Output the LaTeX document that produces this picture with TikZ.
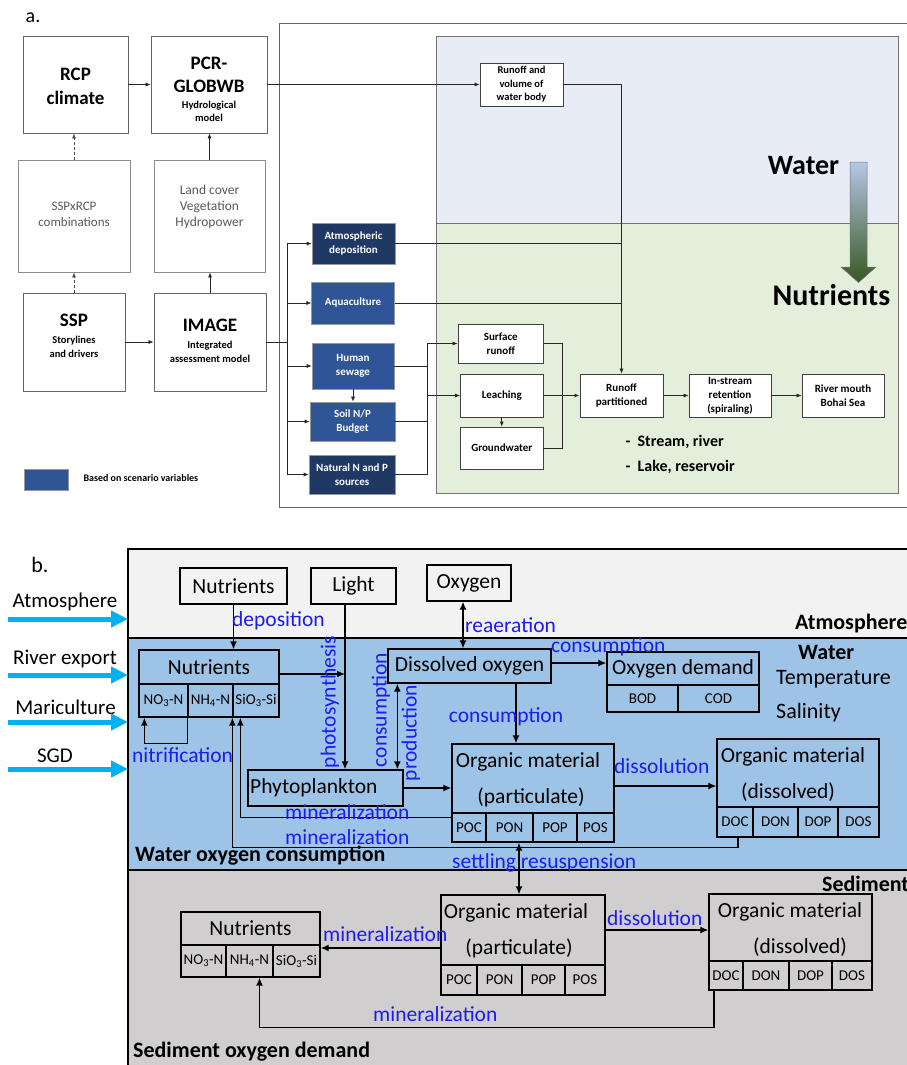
\documentclass[tikz,border=0pt]{standalone}
\usepackage{fontspec}
\setmainfont{Carlito}
\usetikzlibrary{arrows.meta}
\newcommand\fsz[2]{\fontsize{#1}{#2}\selectfont}
\definecolor{navy}{HTML}{1F3864}
\definecolor{midblue}{HTML}{2F5597}
\definecolor{wblue}{HTML}{E7ECF6}
\definecolor{lgreen}{HTML}{E3EFDA}
\definecolor{atmgray}{HTML}{F2F2F2}
\definecolor{watblue}{HTML}{9DC3E6}
\definecolor{sedgray}{HTML}{D0CECE}
\definecolor{lblue}{HTML}{1C1CF0}
\definecolor{cyanarr}{HTML}{00B0F0}
\definecolor{txtgray}{HTML}{595959}
\definecolor{gradtop}{HTML}{B4C7E7}
\definecolor{gradmid}{HTML}{7F9F8A}
\definecolor{gradbot}{HTML}{385723}
\begin{document}
\begin{tikzpicture}[x=1pt,y=-1pt,
  abox/.style={draw=black!60, line width=0.8pt, fill=white, inner sep=0pt, align=center},
  sbox/.style={abox, draw=black!75, font=\bfseries\fsz{10.5}{13.5}},
  bluebox/.style={draw=black!40, line width=0.6pt, fill=midblue, text=white, inner sep=0pt, align=center, font=\bfseries\fsz{11}{14}},
  navybox/.style={bluebox, fill=navy},
  aline/.style={draw=black!85, line width=0.7pt},
  aarrow/.style={aline, -{Latex[length=5pt,width=4pt]}},
  adash/.style={aarrow, draw=black!70, dash pattern=on 3pt off 2pt},
  bbox/.style={draw, line width=1.3pt, inner sep=0pt, font=\fsz{21.5}{26}},
  cellbox/.style={draw, line width=1.3pt, inner sep=0pt, font=\fsz{15}{18}},
  btxt/.style={inner sep=0pt, font=\fsz{21.5}{26}},
  blab/.style={inner sep=0pt, text=lblue, font=\fsz{21.5}{26}},
  boldlab/.style={inner sep=0pt, font=\bfseries\fsz{22}{26}},
  barrow/.style={draw, line width=1.4pt, -{Latex[length=8pt,width=7pt]}},
  bdarrow/.style={draw, line width=1.4pt, {Latex[length=8pt,width=7pt]}-{Latex[length=8pt,width=7pt]}},
  carrow/.style={draw=cyanarr, line width=5pt, -{Triangle[length=17pt,width=16pt]}}
  ]
\useasboundingbox (0,0) rectangle (907,1065);
\fill[white] (0,0) rectangle (907,1065);

% ================= PART a =================
\node[font=\fsz{20}{24}] (alab) at (33,18) {a.};

\node[abox, minimum width=105pt, minimum height=97pt] (rcp) at (75.5,84.5) {};
\node[font=\bfseries\fsz{19}{24}, align=center] at (75.5,86) {RCP\\climate};

\node[abox, minimum width=116pt, minimum height=97pt] (pcr) at (209,84.5) {};
\node[font=\bfseries\fsz{19}{23}, align=center] at (209,75) {PCR-\\GLOBWB};
\node[font=\bfseries\fsz{10.5}{13}, align=center] at (209,111) {Hydrological\\model};

\node[abox, draw=black!45, minimum width=112pt, minimum height=112pt] (combo) at (74,216) {};
\node[font=\fsz{13}{16}, text=txtgray, align=center] at (74,214) {SSPxRCP\\combinations};

\node[abox, draw=black!45, minimum width=111pt, minimum height=112pt] (land) at (209.5,216) {};
\node[font=\fsz{13.5}{16}, text=txtgray, align=center] at (209.5,207) {Land cover\\Vegetation\\Hydropower};

\node[abox, minimum width=102pt, minimum height=98pt] (ssp) at (74,342) {};
\node[font=\bfseries\fsz{19}{23}] at (74,320) {SSP};
\node[font=\bfseries\fsz{10.5}{14}, align=center] at (74,346.5) {Storylines\\and drivers};

\node[abox, minimum width=112pt, minimum height=98pt] (image) at (210,342) {};
\node[font=\bfseries\fsz{19}{23}] at (210,325) {IMAGE};
\node[font=\bfseries\fsz{10.5}{14}, align=center] at (210,351.5) {Integrated\\assessment model};

\node[fill=midblue, draw=black!40, line width=0.6pt, minimum width=44pt, minimum height=21pt] (leg) at (46,479.5) {};
\node[anchor=west, font=\bfseries\fsz{10}{12}] at (80,478) {Based on scenario variables};

% frame and regions
\draw[black!60, line width=0.8pt] (907,23) -- (279,23) -- (279,507) -- (907,507);
\filldraw[fill=wblue, draw=black!55, line width=0.7pt] (436.5,36) rectangle (898.5,223);
\filldraw[fill=lgreen, draw=black!55, line width=0.7pt] (436.5,223) rectangle (898.5,493);

\node[sbox, minimum width=83pt, minimum height=43pt] (runoff) at (521.5,84.5) {Runoff and\\volume of\\water body};

\node[navybox, minimum width=83pt, minimum height=41pt] (atm) at (353.5,243.5) {Atmospheric\\deposition};
\node[bluebox, minimum width=82.5pt, minimum height=42pt] (aqua) at (353,303) {Aquaculture};
\node[bluebox, minimum width=82pt, minimum height=46pt] (sew) at (353,366) {Human\\sewage};
\node[bluebox, minimum width=85pt, minimum height=39pt] (soil) at (352.5,421.5) {Soil N/P\\Budget};
\node[navybox, minimum width=86pt, minimum height=39pt] (nat) at (352,474.5) {Natural N and P\\sources};

\node[sbox, font=\bfseries\fsz{11}{14}, minimum width=85.5pt, minimum height=39pt] (srun) at (500.75,343.5) {Surface\\runoff};
\node[sbox, font=\bfseries\fsz{11}{14}, minimum width=82.5pt, minimum height=43pt] (leach) at (501.75,395.5) {Leaching};
\node[sbox, font=\bfseries\fsz{11}{14}, minimum width=82.5pt, minimum height=42pt] (gw) at (501.75,448) {Groundwater};
\node[sbox, font=\bfseries\fsz{11}{14}, minimum width=83pt, minimum height=43pt] (rpart) at (621.5,395.5) {Runoff\\partitioned};
\node[sbox, font=\bfseries\fsz{11}{14}, minimum width=82pt, minimum height=43pt] (instr) at (730,395.5) {In-stream\\retention\\(spiraling)};
\node[sbox, font=\bfseries\fsz{11}{14}, minimum width=82pt, minimum height=43pt] (river) at (843,395.5) {River mouth\\Bohai Sea};

\node[anchor=west, font=\bfseries\fsz{16}{19}] (lst1) at (622,442) {-\ \ Stream, river};
\node[anchor=west, font=\bfseries\fsz{16}{19}] (lst2) at (622,467) {-\ \ Lake, reservoir};

\shade[top color=gradtop, middle color=gradmid, bottom color=gradbot]
  (850,162) -- (867,162) -- (867,267) -- (876,267) -- (858.5,282.5) -- (841,267) -- (850,267) -- cycle;
\draw[black!55, line width=0.5pt]
  (850,162) -- (867,162) -- (867,267) -- (876,267) -- (858.5,282.5) -- (841,267) -- (850,267) -- cycle;
\node[font=\bfseries\fsz{28}{32}] (waterlab) at (803.5,166) {Water};
\node[font=\bfseries\fsz{30}{34}] (nutlab) at (831.5,295) {Nutrients};

% connectors a
\draw[aarrow] (rcp.east) -- (pcr.west);
\draw[adash] (combo.north) -- (combo.north |- rcp.south);
\draw[adash] (ssp.north) -- (ssp.north |- combo.south);
\draw[aarrow] (land.north) -- (land.north |- pcr.south);
\draw[aarrow] (image.north) -- (image.north |- land.south);
\draw[aarrow] (ssp.east) -- (image.west);
\coordinate (br) at (287,342);
\draw[aline, line width=1pt] (image.east) -- (br);
\foreach \n in {atm,aqua,sew,soil,nat} \draw[aarrow] (br) |- (\n.west);
\draw[aarrow] (pcr.east) -- (pcr.east -| runoff.west);
\draw[aarrow] (runoff.east) -| (rpart.north);
\draw[aline] (atm.east) -- (atm.east -| rpart.north);
\draw[aline] (aqua.east) -- (aqua.east -| rpart.north);
\draw[aarrow] (sew.south) -- (sew.south |- soil.north);
\coordinate (col) at (427,343.5);
\draw[aline] (nat.east) -| (col);
\draw[aline] (sew.east) -- (sew.east -| col);
\draw[aline] (soil.east) -- (soil.east -| col);
\draw[aarrow] (col) -- (srun.west);
\draw[aarrow] (col |- leach.west) -- (leach.west);
\draw[aline] (srun.east) -- ++(18.5,0) |- (gw.east);
\draw[aarrow] (leach.south) -- (gw.north);
\draw[aarrow, line width=1pt] (leach.east) -- (rpart.west);
\draw[aarrow] (rpart.east) -- (instr.west);
\draw[aarrow] (instr.east) -- (river.west);

% ================= PART b =================
\node[font=\fsz{22}{26}] (blab) at (40,565) {b.};

\fill[atmgray] (128,549) rectangle (907,638);
\fill[watblue] (128,638) rectangle (907,870);
\fill[sedgray] (128,870) rectangle (907,1065);
\draw[line width=1.4pt] (907,549) -- (128,549) -- (128,1065);
\draw[line width=1.3pt] (128,638) -- (907,638);
\draw[line width=1.3pt] (128,870) -- (907,870);

% left inputs
\node[btxt, font=\fsz{21}{25}] (lat) at (65,602) {Atmosphere};
\node[btxt, font=\fsz{21}{25}] (lre) at (65,659) {River export};
\node[btxt, font=\fsz{21}{25}] (lma) at (65.5,707) {Mariculture};
\node[btxt, font=\fsz{21}{25}] (lsg) at (55,756) {SGD};
\coordinate (c1s) at (8,619);  \coordinate (c1e) at (128,619);
\coordinate (c2s) at (8,675);  \coordinate (c2e) at (128,675);
\coordinate (c3s) at (8,722);  \coordinate (c3e) at (128,722);
\coordinate (c4s) at (8,769);  \coordinate (c4e) at (128,769);
\draw[carrow] (c1s) -- (c1e);
\draw[carrow] (c2s) -- (c2e);
\draw[carrow] (c3s) -- (c3e);
\draw[carrow] (c4s) -- (c4e);

% atmosphere boxes
\node[bbox, minimum width=107pt, minimum height=36pt] (tnut) at (233.5,586) {Nutrients};
\node[bbox, minimum width=85pt, minimum height=36pt] (light) at (353.5,586) {Light};
\node[bbox, minimum width=84pt, minimum height=36pt] (oxy) at (469,583) {Oxygen};

% water boxes
\node[bbox, minimum width=140pt, minimum height=34pt] (wnut) at (209,667) {Nutrients};
\node[cellbox, minimum width=49pt, minimum height=33pt] (wno3) at (163.5,700.5) {NO\textsubscript{3}-N};
\node[cellbox, minimum width=45pt, minimum height=33pt] (wnh4) at (210.5,700.5) {NH\textsubscript{4}-N};
\node[cellbox, minimum width=46pt, minimum height=33pt] (wsio) at (256,700.5) {SiO\textsubscript{3}-Si};

\node[bbox, minimum width=163pt, minimum height=34pt] (do) at (469.5,666) {Dissolved oxygen};

\node[bbox, minimum width=152pt, minimum height=33pt] (odem) at (683,668.5) {Oxygen demand};
\node[cellbox, minimum width=71pt, minimum height=27pt] (wbod) at (642.5,698.5) {BOD};
\node[cellbox, minimum width=81pt, minimum height=27pt] (wcod) at (718.5,698.5) {COD};

\node[bbox, minimum width=155pt, minimum height=36pt] (phyto) at (325.5,788) {};
\node[btxt, anchor=west] at (250,788) {Phytoplankton};

\node[bbox, minimum width=162pt, minimum height=69pt] (wopart) at (533,778.5) {};
\node[btxt] at (528,762) {Organic material};
\node[btxt] at (531,797) {(particulate)};
\node[cellbox, minimum width=34pt, minimum height=29pt] (wpoc) at (469,827.5) {POC};
\node[cellbox, minimum width=47pt, minimum height=29pt] (wpon) at (509.5,827.5) {PON};
\node[cellbox, minimum width=44pt, minimum height=29pt] (wpop) at (555,827.5) {POP};
\node[cellbox, minimum width=37pt, minimum height=29pt] (wpos) at (595.5,827.5) {POS};

\node[bbox, minimum width=162pt, minimum height=68pt] (wodis) at (798,773) {};
\node[btxt] at (793,757) {Organic material};
\node[btxt] at (788,792) {(dissolved)};
\node[cellbox, minimum width=36pt, minimum height=30pt] (wdoc) at (735,822) {DOC};
\node[cellbox, minimum width=45pt, minimum height=30pt] (wdon) at (775.5,822) {DON};
\node[cellbox, minimum width=40pt, minimum height=30pt] (wdop) at (818,822) {DOP};
\node[cellbox, minimum width=41pt, minimum height=30pt] (wdos) at (858.5,822) {DOS};

% sediment boxes
\node[bbox, minimum width=139pt, minimum height=33pt] (snut) at (250.5,928.5) {Nutrients};
\node[cellbox, minimum width=45pt, minimum height=32pt] (sno3) at (203.5,961) {NO\textsubscript{3}-N};
\node[cellbox, minimum width=47pt, minimum height=32pt] (snh4) at (249.5,961) {NH\textsubscript{4}-N};
\node[cellbox, minimum width=47pt, minimum height=32pt] (ssio) at (296.5,961) {SiO\textsubscript{3}-Si};

\node[bbox, minimum width=164pt, minimum height=70pt] (sopart) at (523,930) {};
\node[btxt] at (516,913) {Organic material};
\node[btxt] at (519,948) {(particulate)};
\node[cellbox, minimum width=36pt, minimum height=30pt] (spoc) at (459,980) {POC};
\node[cellbox, minimum width=45pt, minimum height=30pt] (spon) at (499.5,980) {PON};
\node[cellbox, minimum width=43pt, minimum height=30pt] (spop) at (543.5,980) {POP};
\node[cellbox, minimum width=40pt, minimum height=30pt] (spos) at (585,980) {POS};

\node[bbox, minimum width=163pt, minimum height=67pt] (sodis) at (790.5,927.5) {};
\node[btxt] at (790,912) {Organic material};
\node[btxt] at (800,947) {(dissolved)};
\node[cellbox, minimum width=34pt, minimum height=29pt] (sdoc) at (726,975.5) {DOC};
\node[cellbox, minimum width=46pt, minimum height=29pt] (sdon) at (766,975.5) {DON};
\node[cellbox, minimum width=43pt, minimum height=29pt] (sdop) at (810.5,975.5) {DOP};
\node[cellbox, minimum width=40pt, minimum height=29pt] (sdos) at (852,975.5) {DOS};

% connectors b
\coordinate (pj) at (345,674);
\draw[barrow] (tnut.south) -- (tnut.south |- wnut.north);
\draw[barrow] ([yshift=-7pt]wnut.east) -- (pj);
\draw[barrow] ([xshift=-8.5pt]light.south) -- ([xshift=-8.5pt]light.south |- phyto.north);
\draw[bdarrow] ([xshift=-6pt]oxy.south) -- ([xshift=-6pt]oxy.south |- do.north);
\draw[bdarrow] ([xshift=10pt]do.south west) -- ([xshift=10pt]do.south west |- phyto.north);
\draw[barrow] ([yshift=3pt]do.east) -- ([yshift=3pt]do.east -| odem.west);
\draw[barrow] ([xshift=46.5pt]do.south) -- ([xshift=46.5pt]do.south |- wopart.north);
\draw[barrow] (phyto.east) -- (phyto.east -| wopart.west);
\draw[barrow] ([yshift=-7.5pt]wopart.east) -- ([yshift=-7.5pt]wopart.east -| wodis.west);
\draw[barrow] (wnh4.south west) -- ++(0,26) -| ([xshift=6pt]wno3.south west);
\draw[barrow] ([yshift=-5pt]wpoc.north west) -| ([xshift=8pt]wsio.south west);
\draw[barrow] ([xshift=3pt]wdoc.south) -- ++(0,10) -| (wsio.south west);
\draw[bdarrow] ([xshift=9.5pt]wpon.south) -- ([xshift=9.5pt]wpon.south |- sopart.north);
\draw[barrow] ([yshift=-18pt]sopart.west) -- ([yshift=-18pt]sopart.west -| ssio.east);
\draw[barrow] (sopart.east) -- (sopart.east -| sodis.west);
\draw[barrow] ([xshift=-12pt]sdoc.south) -- ++(0,37) -| ([xshift=10pt]snh4.south);

% blue process labels
\node[blab, anchor=west] at (232,621) {deposition};
\node[blab, anchor=west] at (465,625) {reaeration};
\node[blab, anchor=west] at (551,647) {consumption};
\node[blab] at (506,717) {consumption};
\node[blab, rotate=90] at (330,702) {photosynthesis};
\node[blab, rotate=90] at (381,710) {consumption};
\node[blab, rotate=90] at (411,733) {production};
\node[blab, anchor=west] at (132,755) {nitrification};
\node[blab, anchor=west] at (285,812) {mineralization};
\node[blab, anchor=west] at (285,837) {mineralization};
\node[blab, anchor=west] at (614,766) {dissolution};
\node[blab, anchor=west] at (452,863) {settling resuspension};
\node[blab, anchor=west] at (323,934) {mineralization};
\node[blab, anchor=west] at (607,918) {dissolution};
\node[blab, anchor=west] at (373,1014) {mineralization};

% black zone labels
\node[boldlab, anchor=west] at (795,624) {Atmosphere};
\node[boldlab, anchor=west] at (798,652) {Water};
\node[btxt, font=\fsz{22}{26}, anchor=west] at (776,679) {Temperature};
\node[btxt, font=\fsz{22}{26}, anchor=west] at (776,713) {Salinity};
\node[boldlab, anchor=west] at (135,856) {Water oxygen consumption};
\node[boldlab, anchor=west] at (822,884) {Sediment};
\node[boldlab, anchor=west] at (133,1052) {Sediment oxygen demand};
\end{tikzpicture}
\end{document}
